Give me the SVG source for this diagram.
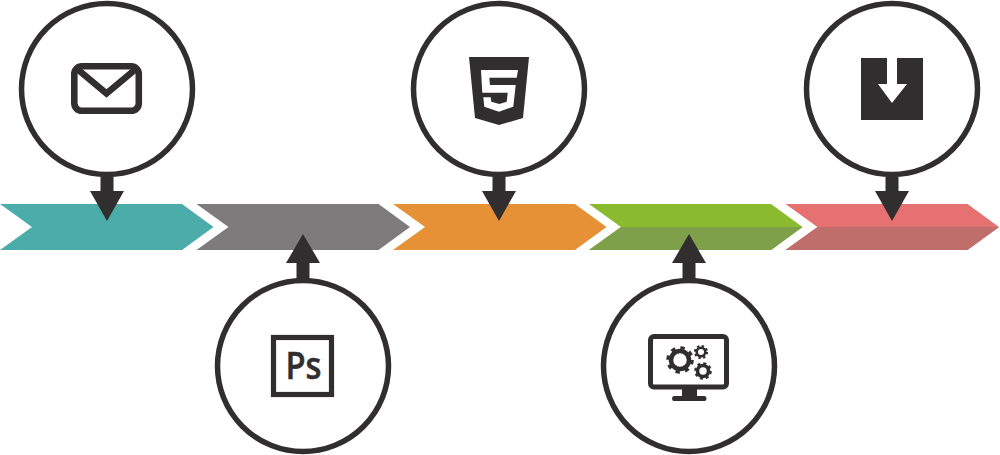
<svg xmlns="http://www.w3.org/2000/svg" width="1000" height="455" viewBox="0 0 1000 455">
<defs>
<style>
.ring{fill:#fff;stroke:#312e2f;stroke-width:5.500}
.ink{fill:#312e2f}
.line{fill:none;stroke:#312e2f}
.ps{font-family:"Open Sans","Noto Sans",sans-serif;font-weight:600;font-size:38px;fill:#312e2f;stroke:#312e2f;stroke-width:0.5}
</style>
<polygon id="chev" points="0,204 182,204 213.500,227 182,250 0,250 32,227"/>
<polygon id="chevlow" points="32,227 213.500,227 182,250 0,250"/>
<path id="down" d="M-6.500,88V102H-17L0,132L17,102H6.500V88Z"/>
<path id="up" d="M-6.500,279V263H-17L0,234L17,263H6.500V279Z"/>
</defs>
<rect width="1000" height="455" fill="#fff"/>
<g id="band-1"><use href="#chev" fill="#4cacaa"/></g>
<g id="band-2"><use href="#chev" x="196.500" fill="#7d7b7c"/></g>
<g id="band-3"><use href="#chev" x="393" fill="#e69136"/></g>
<g id="band-4"><use href="#chev" x="589" fill="#8aba2d"/><use href="#chevlow" x="589" fill="#7ea04a"/></g>
<g id="band-5"><use href="#chev" x="785.500" fill="#e67171"/><use href="#chevlow" x="785.500" fill="#bf6e6c"/></g>
<g id="connectors" class="ink">
<use href="#down" x="107" y="89"/>
<use href="#up" x="303"/>
<use href="#down" x="499" y="89"/>
<use href="#up" x="689"/>
<use href="#down" x="892" y="89"/>
</g>
<g id="node-mail">
<circle class="ring" cx="107" cy="89" r="85.500"/>
<rect class="line" x="74.300" y="66.300" width="64.500" height="44.500" rx="7.500" stroke-width="6.600"/>
<path class="line" d="M76,68L106.500,93.500L137,68" stroke-width="6.600"/>
</g>
<g id="node-ps">
<circle class="ring" cx="303" cy="366" r="85.500"/>
<rect class="line" x="273.500" y="337.500" width="58" height="57" stroke-width="5.200"/>
<text class="ps" x="285.500" y="379" textLength="36" lengthAdjust="spacingAndGlyphs">Ps</text>
</g>
<g id="node-html5">
<circle class="ring" cx="499" cy="89" r="85.500"/>
<path class="ink" d="M469,57H529L523,118L499,125L475,118Z"/>
<path fill="#fff" d="M481,70H518L516.700,77.700H489.300L490,85H515.700L513.300,106.700L499,111.700L484.300,106.700L483.300,97.300H490.700L491.300,101.700L499.300,104L506.700,101.700L507.700,92.700H482.300Z"/>
</g>
<g id="node-monitor">
<circle class="ring" cx="689" cy="366" r="85.500"/>
<rect class="line" x="650.500" y="336.500" width="76" height="50.500" rx="3.500" stroke-width="5"/>
<path class="ink" d="M682,389H697V396H704.500Q706.500,396 706.500,398.500T704.500,401H674Q672,401 672,398.500T674,396H682Z"/>
<circle class="line" cx="680" cy="360" r="9" stroke-width="4.500"/>
<circle class="line" cx="680" cy="360" r="12.300" stroke-width="3" stroke-dasharray="4.400 5.260"/>
<circle class="line" cx="701" cy="352" r="4.300" stroke-width="2.600"/>
<circle class="line" cx="701" cy="352" r="6" stroke-width="2.200" stroke-dasharray="2.300 2.410"/>
<circle class="line" cx="703" cy="371" r="5.500" stroke-width="3.600"/>
<circle class="line" cx="703" cy="371" r="7.600" stroke-width="2.400" stroke-dasharray="3 2.970"/>
</g>
<g id="node-download">
<circle class="ring" cx="892" cy="89" r="85.500"/>
<path class="ink" d="M861,58H887V84H878L892,103L907,84H897V58H923V120H861Z"/>
</g>
</svg>
